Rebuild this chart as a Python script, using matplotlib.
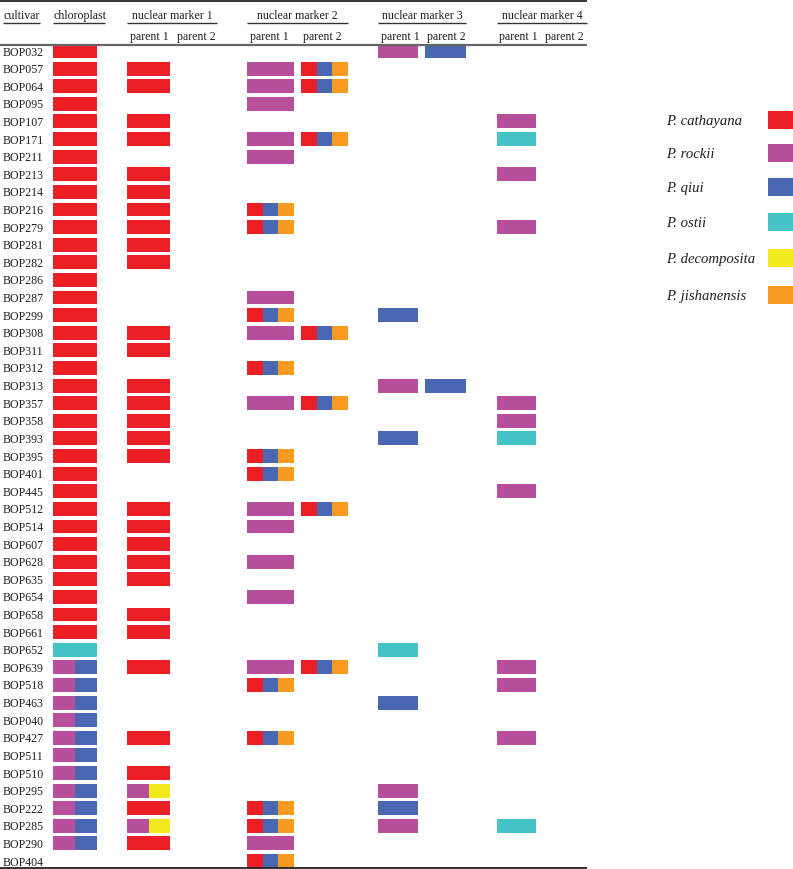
import matplotlib
matplotlib.use("Agg")
import matplotlib.pyplot as plt
from matplotlib.patches import Rectangle

# ---------------- data ----------------
cultivars = ["BOP032", "BOP057", "BOP064", "BOP095", "BOP107", "BOP171", "BOP211",
             "BOP213", "BOP214", "BOP216", "BOP279", "BOP281", "BOP282", "BOP286",
             "BOP287", "BOP299", "BOP308", "BOP311", "BOP312", "BOP313", "BOP357",
             "BOP358", "BOP393", "BOP395", "BOP401", "BOP445", "BOP512", "BOP514",
             "BOP607", "BOP628", "BOP635", "BOP654", "BOP658", "BOP661", "BOP652",
             "BOP639", "BOP518", "BOP463", "BOP040", "BOP427", "BOP511", "BOP510",
             "BOP295", "BOP222", "BOP285", "BOP290", "BOP404"]

# codes: C cathayana, R rockii, Q qiui, O ostii, D decomposita, J jishanensis
chloroplast = ["C"] * 34 + ["O"] + ["RQ"] * 11 + [""]

nm1_parent1 = ["", "C", "C", "", "C", "C", "", "C", "C", "C", "C", "C", "C", "",
               "", "", "C", "C", "", "C", "C", "C", "C", "C", "", "", "C", "C",
               "C", "C", "C", "", "C", "C", "", "C", "", "", "", "C", "", "C",
               "RD", "C", "RD", "C", ""]
nm1_parent2 = [""] * 47

nm2_parent1 = ["", "R", "R", "R", "", "R", "R", "", "", "CQJ", "CQJ", "", "", "",
               "R", "CQJ", "R", "", "CQJ", "", "R", "", "", "CQJ", "CQJ", "", "R", "R",
               "", "R", "", "R", "", "", "", "R", "CQJ", "", "", "CQJ", "", "",
               "", "CQJ", "CQJ", "R", "CQJ"]
nm2_parent2 = ["", "CQJ", "CQJ", "", "", "CQJ", "", "", "", "", "", "", "", "",
               "", "", "CQJ", "", "", "", "CQJ", "", "", "", "", "", "CQJ", "",
               "", "", "", "", "", "", "", "CQJ", "", "", "", "", "", "",
               "", "", "", "", ""]

nm3_parent1 = ["R", "", "", "", "", "", "", "", "", "", "", "", "", "",
               "", "Q", "", "", "", "R", "", "", "Q", "", "", "", "", "",
               "", "", "", "", "", "", "O", "", "", "Q", "", "", "", "",
               "R", "Q", "R", "", ""]
nm3_parent2 = ["Q", "", "", "", "", "", "", "", "", "", "", "", "", "",
               "", "", "", "", "", "Q", "", "", "", "", "", "", "", "",
               "", "", "", "", "", "", "", "", "", "", "", "", "", "",
               "", "", "", "", ""]

nm4_parent1 = ["", "", "", "", "R", "O", "", "R", "", "", "R", "", "", "",
               "", "", "", "", "", "", "R", "R", "O", "", "", "R", "", "",
               "", "", "", "", "", "", "", "R", "R", "", "", "R", "", "",
               "", "", "O", "", ""]
nm4_parent2 = [""] * 47

species_codes = ["C", "R", "Q", "O", "D", "J"]
species_names = ["P. cathayana", "P. rockii", "P. qiui", "P. ostii",
                 "P. decomposita", "P. jishanensis"]
species_colors = ["#EC1F27", "#B74F9D", "#4A67B1", "#46C3C6", "#F3EA1D", "#F79A20"]

column_headers = ["cultivar", "chloroplast", "nuclear marker 1", "nuclear marker 2",
                  "nuclear marker 3", "nuclear marker 4"]
parent_labels = ["parent 1", "parent 2"]

# ---------------- layout ----------------
W, H = 793, 869
fig = plt.figure(figsize=(W / 100, H / 100), dpi=100)
ax = fig.add_axes([0, 0, 1, 1])
ax.axis("off")

row0_px, step_px = 51.0, 17.61
def py(p):  # pixel y -> row units
    return (p - row0_px) / step_px

ax.set_xlim(0, W)
ax.set_ylim(py(H), py(0))

color_of = dict(zip(species_codes, species_colors))
FONT = "Liberation Serif"
fs = 8.6
tc = "#231F20"
VA = "center_baseline"

# column spans (x start, x end) in pixels
col_spans = {
    "chl": (53, 97),
    "nm1p1": (127, 170), "nm1p2": (177, 220),
    "nm2p1": (247, 294), "nm2p2": (301, 348),
    "nm3p1": (378, 418), "nm3p2": (425, 466),
    "nm4p1": (497, 536), "nm4p2": (545, 585),
}
columns = {
    "chl": chloroplast,
    "nm1p1": nm1_parent1, "nm1p2": nm1_parent2,
    "nm2p1": nm2_parent1, "nm2p2": nm2_parent2,
    "nm3p1": nm3_parent1, "nm3p2": nm3_parent2,
    "nm4p1": nm4_parent1, "nm4p2": nm4_parent2,
}
bar_h = 0.79

for key, vals in columns.items():
    x0, x1 = col_spans[key]
    for i, code in enumerate(vals):
        if not code:
            continue
        seg = (x1 - x0) / len(code)
        for k, c in enumerate(code):
            ax.add_patch(Rectangle((x0 + k * seg, i - bar_h / 2), seg, bar_h,
                                   facecolor=color_of[c], edgecolor="none"))

# cultivar names
for i, name in enumerate(cultivars):
    ax.text(3, i, name, fontsize=fs, family=FONT, color=tc, va=VA, ha="left")

# header
line_c = "#333333"
ax.plot([0, 587], [py(1), py(1)], color="#222222", lw=1.3, solid_capstyle="butt")
ax.plot([0, 587], [py(45), py(45)], color="#666666", lw=1.6, solid_capstyle="butt")
ax.plot([0, 587], [py(868), py(868)], color="#222222", lw=1.3, solid_capstyle="butt")

head_y = py(14)
under_y = py(23)
par_y = py(35)
header_spans = [(3, 40), (53, 105), (127, 217), (247, 348), (378, 466), (497, 587)]
for j, (lab, (a, b)) in enumerate(zip(column_headers, header_spans)):
    if j < 2:
        ax.text(a, head_y, lab, fontsize=fs, family=FONT, color=tc, va=VA, ha="left")
    else:
        ax.text((a + b) / 2, head_y, lab, fontsize=fs, family=FONT, color=tc,
                va=VA, ha="center")
    ax.plot([a, b], [under_y, under_y], color=line_c, lw=1.0, solid_capstyle="butt")

parent_x = [(130, 177), (250, 303), (381, 427), (499, 545)]
for p1, p2 in parent_x:
    ax.text(p1, par_y, parent_labels[0], fontsize=fs, family=FONT, color=tc, va=VA, ha="left")
    ax.text(p2, par_y, parent_labels[1], fontsize=fs, family=FONT, color=tc, va=VA, ha="left")

# legend
leg_y_px = [120, 153, 187, 222, 258, 295]
for name, col, ypx in zip(species_names, species_colors, leg_y_px):
    ax.text(666, py(ypx), name, fontsize=10.6, family=FONT, style="italic", color=tc,
            va=VA, ha="left")
    ax.add_patch(Rectangle((768, py(ypx) - 0.5), 26, 1.0, facecolor=col, edgecolor="none"))

fig.savefig("out.png", dpi=100)
